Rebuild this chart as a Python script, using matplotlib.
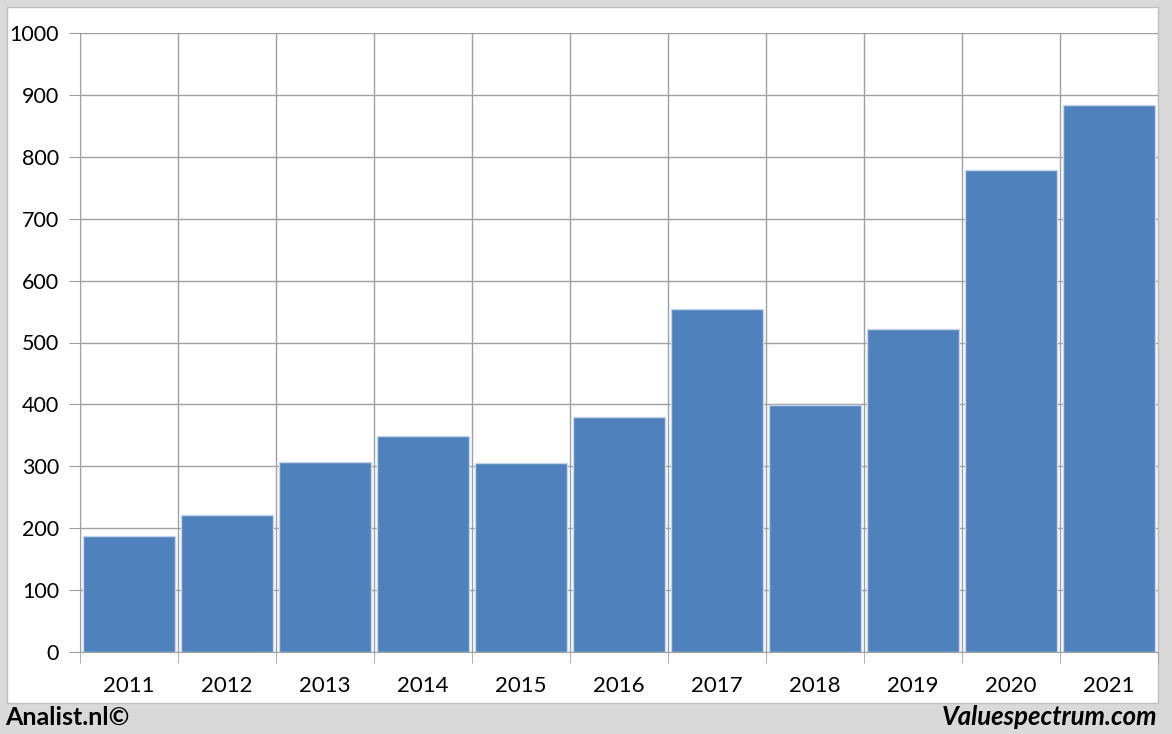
import matplotlib.pyplot as plt
import numpy as np
from matplotlib.patches import Rectangle

years = ['2011', '2012', '2013', '2014', '2015', '2016', '2017', '2018', '2019', '2020', '2021']
values = [187, 221, 307, 349, 305, 380, 554, 399, 522, 779, 884]
yticks = [0, 100, 200, 300, 400, 500, 600, 700, 800, 900, 1000]

plt.rcParams['font.family'] = ['Lato', 'DejaVu Sans']

fig = plt.figure(figsize=(11.72, 7.34), dpi=100)
fig.patch.set_facecolor('#d9d9d9')
# white panel behind the chart
fig.patches.append(Rectangle((7/1172, 1 - 703/734), (1158-7)/1172, (703-7)/734,
                             transform=fig.transFigure, facecolor='white',
                             edgecolor='#bfbfbf', lw=1, zorder=-5))

ax = fig.add_axes([80/1172, 1 - 652/734, (1158-80)/1172, (652-33)/734])
ax.set_zorder(2)
ax.set_facecolor('white')
x = np.arange(len(years))
ax.bar(x, values, width=0.93, color='#4f81bd', edgecolor='#c6d6ea', lw=1, zorder=3)

ax.set_xlim(-0.5, len(years) - 0.5)
ax.set_ylim(0, 1000)
ax.set_yticks(yticks)
ax.set_yticklabels([str(v) for v in yticks], fontsize=15.5)
ax.set_xticks(x)
ax.set_xticklabels(years, fontsize=16)
ax.set_xticks(np.arange(-0.5, len(years)), minor=True)
ax.tick_params(axis='x', which='major', length=0, pad=17)
ax.tick_params(axis='x', which='minor', length=8, color='#a0a0a0')
ax.tick_params(axis='y', length=8, color='#a0a0a0', pad=7)
ax.grid(axis='y', color='#a0a0a0', lw=1, zorder=1)
ax.grid(axis='x', which='minor', color='#a0a0a0', lw=1, zorder=1)
for s in ['top', 'right']:
    ax.spines[s].set_visible(False)
for s in ['left', 'bottom']:
    ax.spines[s].set_color('#a0a0a0')

fig.text(5/1172, 1 - 717/734, 'Analist.nl©', fontsize=18, fontweight='bold',
         ha='left', va='center')
fig.text(1157/1172, 1 - 717/734, 'Valuespectrum.com', fontsize=18.5, fontweight='bold',
         fontstyle='italic', ha='right', va='center')

fig.savefig('out.png', dpi=100, facecolor=fig.get_facecolor())
